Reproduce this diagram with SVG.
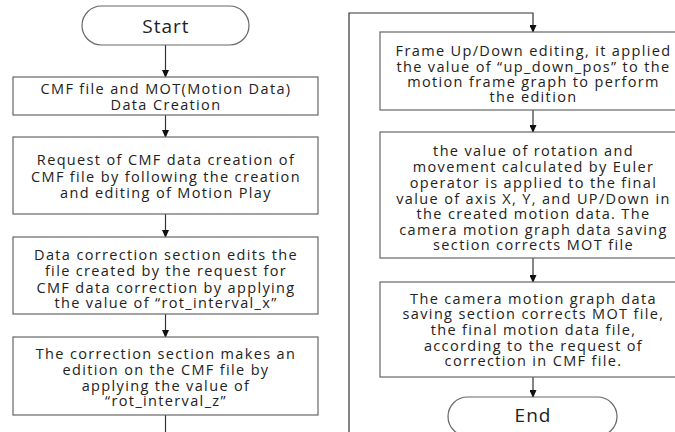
<svg xmlns="http://www.w3.org/2000/svg" width="675" height="432" viewBox="0 0 675 432">
<style>
.box{fill:#fff;stroke:#666;stroke-width:1.2}
.term{fill:#fff;stroke:#666;stroke-width:1.2}
.t{font-family:"Open Sans","Noto Sans",sans-serif;font-size:14.5px;letter-spacing:1.35px;fill:#222;text-anchor:middle;dominant-baseline:central}
.tt{font-family:"Open Sans","Noto Sans",sans-serif;font-size:19px;letter-spacing:1px;fill:#222;text-anchor:middle;dominant-baseline:central}
.c{fill:none;stroke:#333;stroke-width:1.2}
</style>
<defs>
<marker id="ah" markerWidth="8" markerHeight="7" refX="7" refY="3.5" orient="auto" markerUnits="userSpaceOnUse">
<path d="M0,0 L8,3.5 L0,7 Z" fill="#111"/>
</marker>
</defs>
<rect width="675" height="432" fill="#fff"/>
<g id="connectors">
<line class="c" x1="165.5" y1="45" x2="165.5" y2="77" marker-end="url(#ah)"/>
<line class="c" x1="165.5" y1="115" x2="165.5" y2="137" marker-end="url(#ah)"/>
<line class="c" x1="165.5" y1="214" x2="165.5" y2="237" marker-end="url(#ah)"/>
<line class="c" x1="165.5" y1="314" x2="165.5" y2="337" marker-end="url(#ah)"/>
<line class="c" x1="165.5" y1="415" x2="165.5" y2="432"/>
<polyline class="c" points="349,432 349,13 533,13 533,32" marker-end="url(#ah)"/>
<line class="c" x1="533" y1="110" x2="533" y2="132" marker-end="url(#ah)"/>
<line class="c" x1="533" y1="258" x2="533" y2="282" marker-end="url(#ah)"/>
<line class="c" x1="533" y1="377" x2="533" y2="397" marker-end="url(#ah)"/>
</g>
<g id="start">
<rect class="term" x="82" y="6" width="167" height="39" rx="19.5"/>
<text class="tt" x="166" y="26">Start</text>
</g>
<g id="box1">
<rect class="box" x="13" y="77" width="305" height="38"/>
<text class="t" x="166" y="88">CMF file and MOT(Motion Data)</text>
<text class="t" x="166" y="104">Data Creation</text>
</g>
<g id="box2">
<rect class="box" x="13" y="137" width="305" height="77"/>
<text class="t" x="166" y="159">Request of CMF data creation of</text>
<text class="t" x="166" y="176">CMF file by following the creation</text>
<text class="t" x="166" y="192">and editing of Motion Play</text>
</g>
<g id="box3">
<rect class="box" x="13" y="237" width="305" height="77"/>
<text class="t" x="166" y="254">Data correction section edits the</text>
<text class="t" x="166" y="270">file created by the request for</text>
<text class="t" x="166" y="287">CMF data correction by applying</text>
<text class="t" x="166" y="302">the value of “rot_interval_x”</text>
</g>
<g id="box4">
<rect class="box" x="13" y="337" width="305" height="78"/>
<text class="t" x="166" y="353">The correction section makes an</text>
<text class="t" x="166" y="369">edition on the CMF file by</text>
<text class="t" x="166" y="385">applying the value of</text>
<text class="t" x="166" y="400">“rot_interval_z”</text>
</g>
<g id="box5">
<rect class="box" x="380" y="32" width="306" height="78"/>
<text class="t" x="533.5" y="50">Frame Up/Down editing, it applied</text>
<text class="t" x="533.5" y="66">the value of “up_down_pos” to the</text>
<text class="t" x="533.5" y="81">motion frame graph to perform</text>
<text class="t" x="533.5" y="96">the edition</text>
</g>
<g id="box6">
<rect class="box" x="380" y="132" width="306" height="126"/>
<text class="t" x="533.5" y="150">the value of rotation and</text>
<text class="t" x="533.5" y="166">movement calculated by Euler</text>
<text class="t" x="533.5" y="182">operator is applied to the final</text>
<text class="t" x="533.5" y="198">value of axis X, Y, and UP/Down in</text>
<text class="t" x="533.5" y="213">the created motion data. The</text>
<text class="t" x="533.5" y="229">camera motion graph data saving</text>
<text class="t" x="533.5" y="244">section corrects MOT file</text>
</g>
<g id="box7">
<rect class="box" x="380" y="282" width="306" height="95"/>
<text class="t" x="533.5" y="298">The camera motion graph data</text>
<text class="t" x="533.5" y="313">saving section corrects MOT file,</text>
<text class="t" x="533.5" y="329">the final motion data file,</text>
<text class="t" x="533.5" y="345">according to the request of</text>
<text class="t" x="533.5" y="360">correction in CMF file.</text>
</g>
<g id="end">
<rect class="term" x="448" y="397" width="169" height="39" rx="19.5"/>
<text class="tt" x="533" y="415">End</text>
</g>
</svg>
